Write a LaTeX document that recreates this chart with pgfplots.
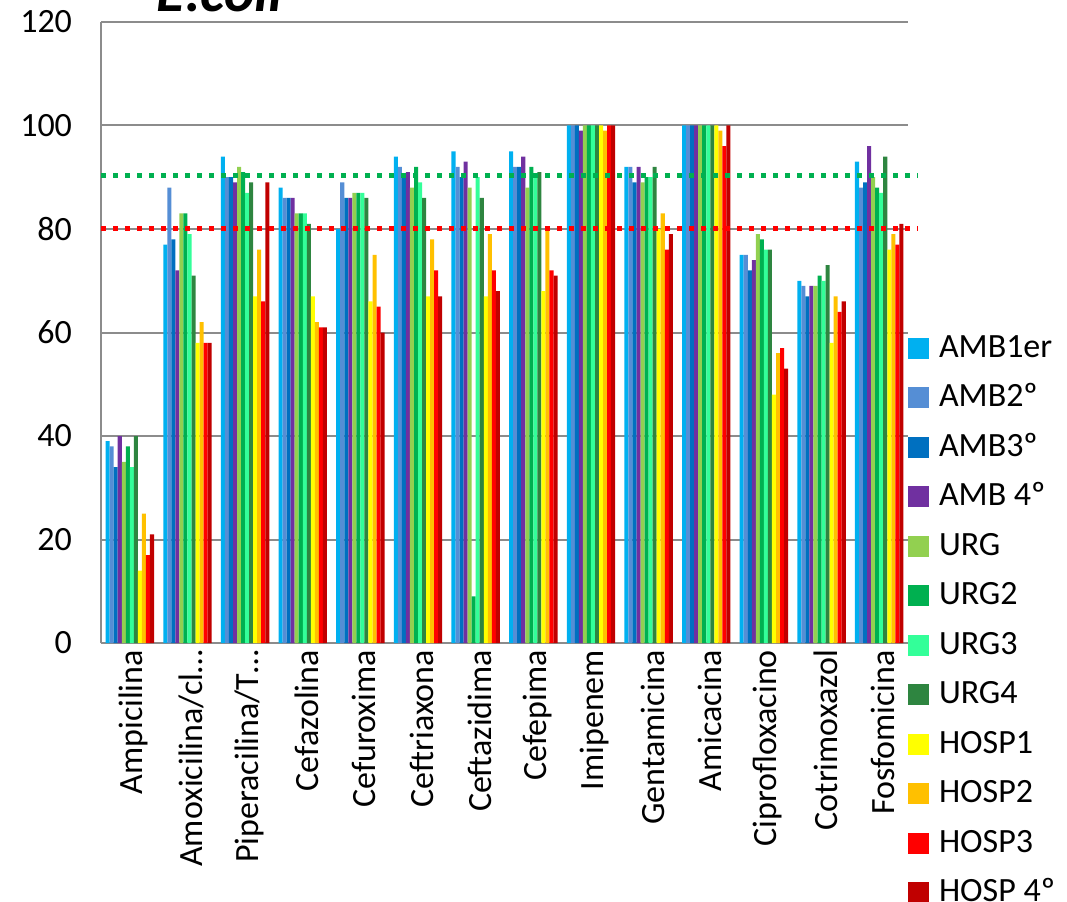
\documentclass[border=0pt]{standalone}
\usepackage{fontspec}
\setmainfont{Carlito}
\usepackage{pgfplots}
\usepackage{pgfplotstable}
\pgfplotsset{compat=1.18}

\definecolor{c1}{HTML}{00B0F0}
\definecolor{c2}{HTML}{558ED5}
\definecolor{c3}{HTML}{0070C0}
\definecolor{c4}{HTML}{7030A0}
\definecolor{c5}{HTML}{92D050}
\definecolor{c6}{HTML}{00B050}
\definecolor{c7}{HTML}{33FF99}
\definecolor{c8}{HTML}{2E8540}
\definecolor{c9}{HTML}{FFFF00}
\definecolor{c10}{HTML}{FFC000}
\definecolor{c11}{HTML}{FF0000}
\definecolor{c12}{HTML}{C00000}
\definecolor{gridgray}{HTML}{8C8C8C}

\newcommand\lbl{\fontsize{17bp}{20bp}\selectfont}

% x: 0 Ampicilina ... 13 Fosfomicina
\pgfplotstableread{
x  a1  a2  a3  a4  u1  u2  u3  u4  h1  h2  h3  h4
0  39  38  34  40  35  38  34  40  14  25  17  21
1  77  88  78  72  83  83  79  71  58  62  58  58
2  94  90  90  89  92  91  87  89  67  76  66  89
3  88  86  86  86  83  83  83  81  67  62  61  61
4  80  89  86  86  87  87  87  86  66  75  65  60
5  94  92  90  91  88  92  89  86  67  78  72  67
6  95  92  90  93  88  9   90  86  67  79  72  68
7  95  92  92  94  88  92  90  91  68  80  72  71
8  100 100 100 99  100 100 100 100 100 99  100 100
9  92  92  89  92  89  90  90  92  80  83  76  79
10 100 100 100 100 100 100 100 100 100 99  96  100
11 75  75  72  74  79  78  76  76  48  56  57  53
12 70  69  67  69  69  71  70  73  58  67  64  66
13 93  88  89  96  90  88  87  94  76  79  77  81
}\ecoli

\pgfplotsset{
  mybar/.style={ybar, bar width=0.07, draw=none,
    legend image code/.code={\fill[##1] (0bp,-5.25bp) rectangle (10.5bp,5.25bp);}},
}

\begin{document}
\begin{tikzpicture}
\begin{axis}[
  at={(0,0)}, anchor=south west,
  scale only axis, width=403.5bp, height=310.5bp,
  xmin=-0.5, xmax=13.5, ymin=0, ymax=120,
  ytick={0,20,...,120},
  xtick={0,...,13},
  xticklabels={Ampicilina, Amoxicilina/cl…, Piperacilina/T…, Cefazolina,
    Cefuroxima, Ceftriaxona, Ceftazidima, Cefepima, Imipenem, Gentamicina,
    Amicacina, Ciprofloxacino, Cotrimoxazol, Fosfomicina},
  x tick label style={rotate=90, anchor=east, font=\lbl, yshift=-2bp},
  y tick label style={font=\lbl, xshift=-11bp},
  /pgf/number format/assume math mode=true,
  major tick length=0pt,
  ymajorgrids,
  grid style={draw=gridgray, line width=1bp},
  axis x line*=bottom, axis y line*=left,
  axis line style={-, draw=gridgray, line width=1bp},
  clip=false,
  legend cell align=left,
  legend style={at={(1,0.499)}, anchor=north west, draw=none, fill=none,
    inner sep=0pt, outer sep=0pt, font=\lbl, row sep=9.75bp,
    nodes={inner sep=0pt, text height=12bp, text depth=3bp},
    /tikz/every odd column/.append style={column sep=5bp}},
]
\addplot[mybar, fill=c1,  bar shift=-0.385] table[x=x, y=a1] {\ecoli};
\addplot[mybar, fill=c2,  bar shift=-0.315] table[x=x, y=a2] {\ecoli};
\addplot[mybar, fill=c3,  bar shift=-0.245] table[x=x, y=a3] {\ecoli};
\addplot[mybar, fill=c4,  bar shift=-0.175] table[x=x, y=a4] {\ecoli};
\addplot[mybar, fill=c5,  bar shift=-0.105] table[x=x, y=u1] {\ecoli};
\addplot[mybar, fill=c6,  bar shift=-0.035] table[x=x, y=u2] {\ecoli};
\addplot[mybar, fill=c7,  bar shift=0.035]  table[x=x, y=u3] {\ecoli};
\addplot[mybar, fill=c8,  bar shift=0.105]  table[x=x, y=u4] {\ecoli};
\addplot[mybar, fill=c9,  bar shift=0.175]  table[x=x, y=h1] {\ecoli};
\addplot[mybar, fill=c10, bar shift=0.245]  table[x=x, y=h2] {\ecoli};
\addplot[mybar, fill=c11, bar shift=0.315]  table[x=x, y=h3] {\ecoli};
\addplot[mybar, fill=c12, bar shift=0.385]  table[x=x, y=h4] {\ecoli};
% reference lines
\addplot[forget plot, no markers, draw=c6, line width=2.5bp, dash pattern=on 2.5bp off 3.5bp]
  coordinates {(-0.5,90.3) (13.67,90.3)};
\addplot[forget plot, no markers, draw=c11, line width=2.5bp, dash pattern=on 2.5bp off 3.5bp]
  coordinates {(-0.5,80) (13.67,80)};
\legend{AMB1er, AMB2º, AMB3º, AMB 4º, URG, URG2, URG3, URG4, HOSP1, HOSP2, HOSP3, HOSP 4º}
\end{axis}
\node[anchor=base, font=\fontsize{29bp}{34bp}\selectfont\bfseries\itshape] at (59.5bp,315.5bp) {E.coli};
\pgfresetboundingbox
\useasboundingbox (-50.5bp,-129.5bp) rectangle (483bp,321.5bp);
\end{tikzpicture}
\end{document}
